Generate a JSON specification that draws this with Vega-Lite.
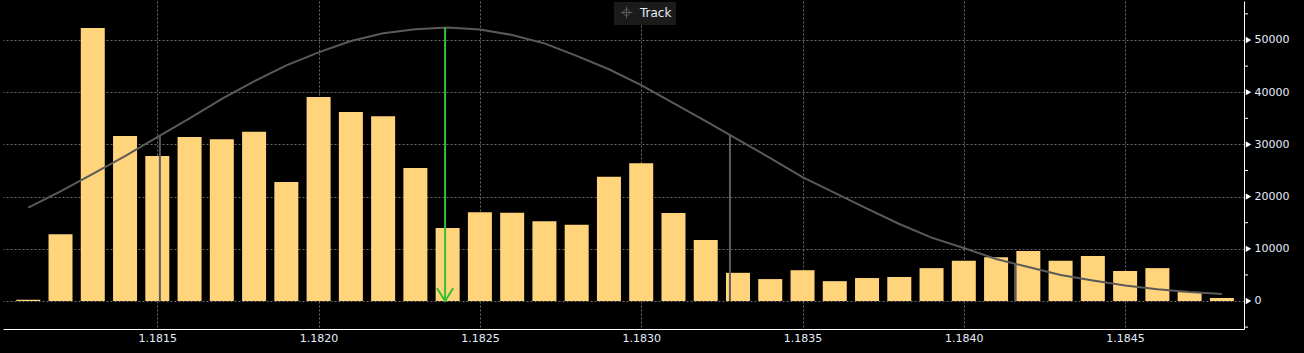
{
  "$schema": "https://vega.github.io/schema/vega-lite/v6.json",
  "width": 1241,
  "height": 328,
  "autosize": {"type": "none"},
  "padding": {"left": 3, "top": 1, "right": 60, "bottom": 24},
  "background": "#000000",
  "config": {
    "view": {"stroke": null},
    "font": "DejaVu Sans",
    "axis": {
      "labelFont": "DejaVu Sans",
      "labelFontSize": 11,
      "labelColor": "#e6eefc",
      "domainColor": "#ffffff",
      "domainWidth": 1,
      "gridColor": "#6a6a6a",
      "gridDash": [2, 2],
      "gridWidth": 1,
      "title": null,
      "labelOverlap": false,
      "zindex": 0
    }
  },
  "datasets": {
    "bars": [
      {"price": 1.1811, "volume": 250},
      {"price": 1.1812, "volume": 12800},
      {"price": 1.1813, "volume": 52300},
      {"price": 1.1814, "volume": 31600},
      {"price": 1.1815, "volume": 27800},
      {"price": 1.1816, "volume": 31400},
      {"price": 1.1817, "volume": 31000},
      {"price": 1.1818, "volume": 32400},
      {"price": 1.1819, "volume": 22800},
      {"price": 1.1820, "volume": 39100},
      {"price": 1.1821, "volume": 36200},
      {"price": 1.1822, "volume": 35400},
      {"price": 1.1823, "volume": 25500},
      {"price": 1.1824, "volume": 14000},
      {"price": 1.1825, "volume": 17000},
      {"price": 1.1826, "volume": 16900},
      {"price": 1.1827, "volume": 15300},
      {"price": 1.1828, "volume": 14600},
      {"price": 1.1829, "volume": 23800},
      {"price": 1.1830, "volume": 26400},
      {"price": 1.1831, "volume": 16850},
      {"price": 1.1832, "volume": 11700},
      {"price": 1.1833, "volume": 5400},
      {"price": 1.1834, "volume": 4200},
      {"price": 1.1835, "volume": 5900},
      {"price": 1.1836, "volume": 3800},
      {"price": 1.1837, "volume": 4400},
      {"price": 1.1838, "volume": 4600},
      {"price": 1.1839, "volume": 6300},
      {"price": 1.1840, "volume": 7700},
      {"price": 1.1841, "volume": 8400},
      {"price": 1.1842, "volume": 9600},
      {"price": 1.1843, "volume": 7700},
      {"price": 1.1844, "volume": 8600},
      {"price": 1.1845, "volume": 5750},
      {"price": 1.1846, "volume": 6300},
      {"price": 1.1847, "volume": 1700},
      {"price": 1.1848, "volume": 580}
    ],
    "curve": [
      {"price": 1.1811, "value": 17870},
      {"price": 1.1812, "value": 21020},
      {"price": 1.1813, "value": 24350},
      {"price": 1.1814, "value": 27760},
      {"price": 1.1815, "value": 31400},
      {"price": 1.1816, "value": 34980},
      {"price": 1.1817, "value": 38700},
      {"price": 1.1818, "value": 42090},
      {"price": 1.1819, "value": 45130},
      {"price": 1.1820, "value": 47640},
      {"price": 1.1821, "value": 49800},
      {"price": 1.1822, "value": 51300},
      {"price": 1.1823, "value": 52050},
      {"price": 1.1824, "value": 52390},
      {"price": 1.1825, "value": 52000},
      {"price": 1.1826, "value": 50960},
      {"price": 1.1827, "value": 49350},
      {"price": 1.1828, "value": 46950},
      {"price": 1.1829, "value": 44390},
      {"price": 1.1830, "value": 41350},
      {"price": 1.1831, "value": 37930},
      {"price": 1.1832, "value": 34480},
      {"price": 1.1833, "value": 30920},
      {"price": 1.1834, "value": 27390},
      {"price": 1.1835, "value": 23750},
      {"price": 1.1836, "value": 20730},
      {"price": 1.1837, "value": 17680},
      {"price": 1.1838, "value": 14750},
      {"price": 1.1839, "value": 12150},
      {"price": 1.1840, "value": 10150},
      {"price": 1.1841, "value": 8050},
      {"price": 1.1842, "value": 6510},
      {"price": 1.1843, "value": 4980},
      {"price": 1.1844, "value": 3930},
      {"price": 1.1845, "value": 2970},
      {"price": 1.1846, "value": 2260},
      {"price": 1.1847, "value": 1720},
      {"price": 1.1848, "value": 1340}
    ],
    "bands": [
      {"price": 1.181508, "top": 31700, "base": 0},
      {"price": 1.183275, "top": 31800, "base": 0},
      {"price": 1.184159, "top": 7090, "base": 0}
    ],
    "mean": [
      {"price": 1.182392, "top": 52390, "base": 0}
    ],
    "yticks": [
      {"edge": 1.1848685, "level": 0}, {"edge": 1.1848685, "level": 10000}, {"edge": 1.1848685, "level": 20000},
      {"edge": 1.1848685, "level": 30000}, {"edge": 1.1848685, "level": 40000}, {"edge": 1.1848685, "level": 50000}
    ],
    "minorticks": [
      {"edge": 1.1848685, "level": -5000}, {"edge": 1.1848685, "level": 5000}, {"edge": 1.1848685, "level": 15000},
      {"edge": 1.1848685, "level": 25000}, {"edge": 1.1848685, "level": 35000}, {"edge": 1.1848685, "level": 45000},
      {"edge": 1.1848685, "level": 55000}
    ]
  },
  "layer": [
    {
      "data": {"name": "bars"},
      "mark": {"type": "bar", "size": 24, "color": "#FFD47A"},
      "encoding": {
        "x": {
          "field": "price",
          "type": "quantitative",
          "scale": {"domain": [1.1810217, 1.1848685], "nice": false, "zero": false, "padding": 0},
          "axis": {
            "orient": "bottom",
            "values": [1.1815, 1.182, 1.1825, 1.183, 1.1835, 1.184, 1.1845],
            "format": ".4f",
            "grid": true,
            "ticks": false,
            "tickSize": 0,
            "labelPadding": 3,
            "labelFlush": false
          }
        },
        "y": {
          "field": "volume",
          "type": "quantitative",
          "scale": {"domain": [-5364, 57471], "nice": false, "zero": false, "padding": 0},
          "axis": {
            "orient": "right",
            "values": [0, 10000, 20000, 30000, 40000, 50000],
            "format": "d",
            "grid": true,
            "ticks": false,
            "tickSize": 0,
            "labelPadding": 10,
            "labelFlush": false,
            "labelOverlap": false
          }
        }
      }
    },
    {
      "data": {"name": "curve"},
      "mark": {"type": "line", "strokeWidth": 2, "interpolate": "linear"},
      "encoding": {
        "x": {"field": "price", "type": "quantitative"},
        "y": {"field": "value", "type": "quantitative"},
        "color": {
          "datum": "Track",
          "type": "nominal",
          "scale": {"range": ["#5a5a5a"]},
          "legend": {
            "orient": "none",
            "legendX": 611,
            "legendY": 1,
            "title": null,
            "fillColor": "#1b1b1b",
            "padding": 4,
            "symbolOffset": 2,
            "symbolType": "M-1,0H1M0,-1V1M-0.55,0A0.55,0.55 0 1,1 0.55,0A0.55,0.55 0 1,1 -0.55,0",
            "symbolSize": 130,
            "symbolStrokeWidth": 1,
            "labelFontSize": 12,
            "labelColor": "#e6eefc",
            "labelOffset": 7
          }
        }
      }
    },
    {
      "data": {"name": "bands"},
      "mark": {"type": "rule", "color": "#5c5c5c", "strokeWidth": 2},
      "encoding": {
        "x": {"field": "price", "type": "quantitative"},
        "y": {"field": "top", "type": "quantitative"},
        "y2": {"field": "base"}
      }
    },
    {
      "data": {"name": "mean"},
      "mark": {"type": "rule", "color": "#33c233", "strokeWidth": 2},
      "encoding": {
        "x": {"field": "price", "type": "quantitative"},
        "y": {"field": "top", "type": "quantitative"},
        "y2": {"field": "base"}
      }
    },
    {
      "data": {"name": "mean"},
      "mark": {"type": "point", "shape": "M-1,-1.6L0,0L1,-1.6", "filled": false, "stroke": "#33c233", "strokeWidth": 2, "size": 256, "opacity": 1},
      "encoding": {
        "x": {"field": "price", "type": "quantitative"},
        "y": {"field": "base", "type": "quantitative"}
      }
    },
    {
      "data": {"name": "yticks"},
      "mark": {"type": "point", "shape": "triangle-right", "filled": true, "color": "#ffffff", "size": 40, "xOffset": 4.5, "opacity": 1},
      "encoding": {
        "x": {"field": "edge", "type": "quantitative"},
        "y": {"field": "level", "type": "quantitative"}
      }
    },
    {
      "data": {"name": "minorticks"},
      "mark": {"type": "tick", "orient": "horizontal", "size": 4, "thickness": 1, "color": "#ffffff", "xOffset": 2, "opacity": 1},
      "encoding": {
        "x": {"field": "edge", "type": "quantitative"},
        "y": {"field": "level", "type": "quantitative"}
      }
    }
  ]
}
